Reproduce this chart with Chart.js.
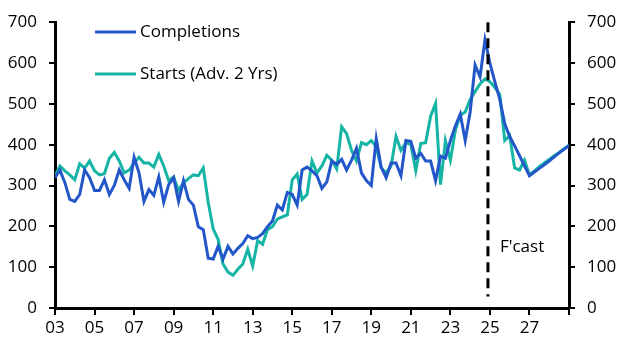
<!DOCTYPE html>
<html>
<head>
<meta charset="utf-8">
<script src="https://cdn.jsdelivr.net/npm/chart.js@4/dist/chart.umd.min.js"></script>
<style>
html,body{margin:0;padding:0;background:#fff;}
#wrap{width:629px;height:355px;position:relative;}
</style>
</head>
<body>
<div id="wrap"><canvas id="c" width="629" height="355"></canvas></div>
<script>
// Quarterly data starting 2003 Q1, ending 2029 Q1
const startYear = 2003;
const completions = [
  319,338,307,266,261,278,338,319,288,288,314,278,300,338,314,293,
  369,331,261,290,276,321,259,302,319,261,312,266,252,199,192,122,
  120,151,120,151,132,146,158,177,170,173,182,199,213,252,240,283,
  278,252,338,345,336,324,293,309,360,352,364,338,362,391,331,312,
  300,415,345,319,355,355,324,410,408,367,379,360,360,312,372,367,
  410,446,475,410,480,595,566,657,600,554,511,451,420,397,373,348,
  324,333,342,351,360,370,380,389,398
];
const starts = [
  324,348,336,326,314,353,343,360,336,326,329,367,381,360,331,338,
  355,369,355,355,345,376,348,312,321,288,307,317,326,324,343,259,
  194,168,108,88,80,95,108,144,103,165,156,192,199,218,223,228,
  314,328,266,278,360,331,348,374,362,341,444,427,386,360,405,400,
  410,395,343,331,348,420,386,405,400,336,403,405,470,501,302,410,
  362,435,472,480,511,530,549,561,554,540,523,410,422,343,338,362,
  326,336,346,355,364,373,381,390,398
];
const seriesLabels = ["Completions", "Starts (Adv. 2 Yrs)"];
const yTicks = [0,100,200,300,400,500,600,700];
const forecastStart = 2024.9;
const forecastLabel = "F'cast";

const toPts = arr => arr.map((v,i)=>({x:startYear + i/4, y:v}));
const BLUE = '#2256C9';
const TEAL = '#16B4A4';
const FONT = "'Open Sans', 'Noto Sans', sans-serif";

const overlay = {
  id:'overlay',
  afterDatasetsDraw(chart){
    const ctx = chart.ctx, xs = chart.scales.x, ys = chart.scales.y;
    // forecast dashed line
    const fx = xs.getPixelForValue(forecastStart);
    ctx.save();
    ctx.strokeStyle = '#000'; ctx.lineWidth = 3; ctx.setLineDash([10,6]);
    ctx.beginPath(); ctx.moveTo(fx, ys.getPixelForValue(700)); ctx.lineTo(fx, ys.getPixelForValue(28)); ctx.stroke();
    ctx.setLineDash([]);
    ctx.fillStyle = '#000'; ctx.font = "17px " + FONT; ctx.textBaseline = 'middle'; ctx.textAlign='left';
    ctx.fillText(forecastLabel, fx + 12, ys.getPixelForValue(150));
    // legend
    const items = [[seriesLabels[0], BLUE, 32],[seriesLabels[1], TEAL, 74]];
    items.forEach(([t,c,y])=>{
      ctx.strokeStyle = c; ctx.lineWidth = 3;
      ctx.beginPath(); ctx.moveTo(95,y); ctx.lineTo(136,y); ctx.stroke();
      ctx.fillStyle = '#000';
      ctx.fillText(t, 140, y);
    });
    ctx.restore();
  }
};

const axisCommon = {
  min:0, max:700,
  border:{display:true, color:'#000', width:3},
  grid:{drawOnChartArea:false, drawTicks:true, tickLength:6, color:'#000', lineWidth:2},
};

new Chart(document.getElementById('c'), {
  type:'line',
  data:{
    datasets:[
      {label:seriesLabels[0], data:toPts(completions), borderColor:BLUE, borderWidth:3, pointRadius:0, tension:0, yAxisID:'y'},
      {label:seriesLabels[1], data:toPts(starts), borderColor:TEAL, borderWidth:3, pointRadius:0, tension:0, yAxisID:'y'}
    ]
  },
  options:{
    responsive:false, animation:false,
    layout:{padding:{top:16, right:0, left:0, bottom:0}},
    plugins:{legend:{display:false}, tooltip:{enabled:false}},
    scales:{
      x:{
        type:'linear', min:2003, max:2029,
        border:{display:true, color:'#000', width:3},
        grid:{drawOnChartArea:false, drawTicks:true, tickLength:7, color:'#000', lineWidth:2},
        afterBuildTicks(s){ s.ticks = []; for(let y=2003;y<=2029;y+=2) s.ticks.push({value:y}); },
        ticks:{color:'#000', font:{size:17, family:FONT}, padding:3, maxRotation:0, autoSkip:false,
          callback:v => v>=2029 ? '' : String(v%100).padStart(2,'0')},
        afterFit(s){ s.height = 47; }
      },
      y:Object.assign({}, axisCommon, {
        position:'left',
        afterBuildTicks(s){ s.ticks = yTicks.map(v=>({value:v})); },
        ticks:{color:'#000', font:{size:17, family:FONT}, padding:12},
        afterFit(s){ s.width = 55; }
      }),
      y2:Object.assign({}, axisCommon, {
        position:'right', display:true,
        afterBuildTicks(s){ s.ticks = yTicks.map(v=>({value:v})); },
        ticks:{color:'#000', font:{size:17, family:FONT}, padding:12},
        afterFit(s){ s.width = 60; }
      })
    }
  },
  plugins:[overlay]
});
</script>
</body>
</html>
